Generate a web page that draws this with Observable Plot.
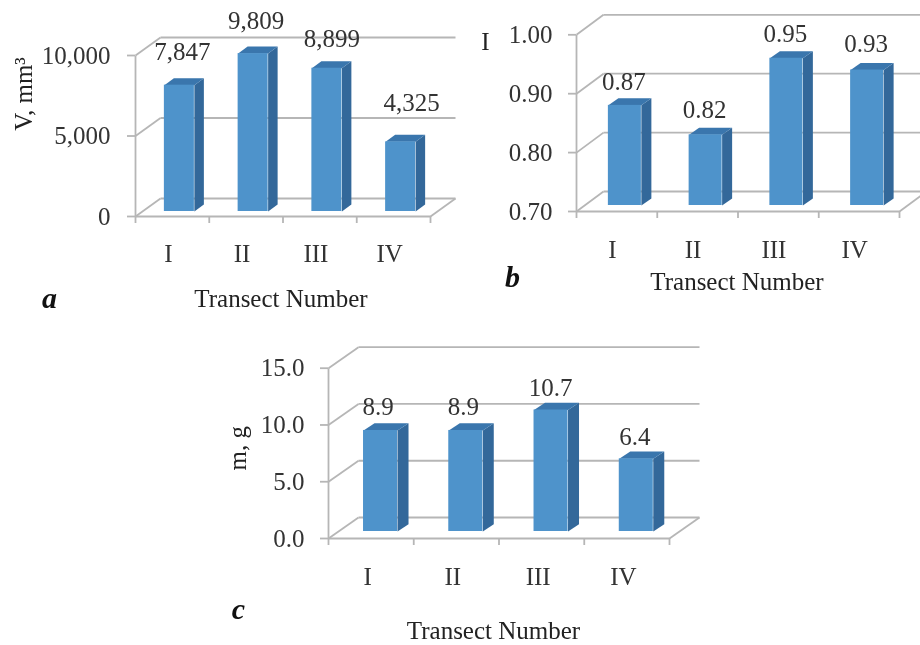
<!DOCTYPE html>
<html>
<head>
<meta charset="utf-8">
<script src="https://cdn.jsdelivr.net/npm/d3@7"></script>
<script src="https://cdn.jsdelivr.net/npm/@observablehq/plot@0.6"></script>
<style>
html,body{margin:0;padding:0;background:#fff}
#wrap{position:relative;width:920px;height:645px;overflow:hidden;filter:blur(0.5px)}
#wrap svg{position:absolute;left:0;top:0}
</style>
</head>
<body>
<div id="wrap"></div>
<script>
const categories = ["I", "II", "III", "IV"];
const volumeValues = [7847, 9809, 8899, 4325];
const volumeTicks = [0, 5000, 10000];
const indexValues = [0.87, 0.82, 0.95, 0.93];
const indexTicks = [0.7, 0.8, 0.9, 1.0];
const massValues = [8.9, 8.9, 10.7, 6.4];
const massTicks = [0, 5, 10, 15];
const xLabel = "Transect Number";

const FRONT = "#4e93cb", SIDE = "#33689a", TOP = "#3a76ad", GRID = "#b6b6b6", INK = "#333333";
const FONT = "'Liberation Serif','Times New Roman',serif";

const panels = [
  {values: volumeValues, ticks: volumeTicks, fmt: d3.format(","), domain: [0, 10000],
   frame: {l: 135, r: 430, t: 55, b: 216}, back: [25, 18], shift: [7, 5], barW: 30, depth: [9.5, 7],
   tickRight: 17, catDx: -4, catDy: 37, labelDx: [10, 10, 12, 18], labelDy: [-38, -38, -34, -44],
   letter: "a", letterAt: [-86, 82], yLabel: "V, mm³", yLabelDx: -112, xLabelAt: [-2, 82]},
  {values: indexValues, ticks: indexTicks, fmt: d3.format(".2f"), domain: [0.7, 1.0],
   frame: {l: 576, r: 899, t: 34.3, b: 211}, back: [27, 20], shift: [8, 6], barW: 33, depth: [10, 7],
   tickRight: 16, catDx: -4.5, catDy: 38, labelDx: [7, 7, 7, 7], labelDy: [-29, -31, -30, -32],
   letter: "b", letterAt: [-64, 66], yLabel: "I", yLabelDx: -91, yLabelFlat: true, xLabelAt: [-1, 70]},
  {values: massValues, ticks: massTicks, fmt: d3.format(".1f"), domain: [0, 15],
   frame: {l: 328, r: 669, t: 367.7, b: 538}, back: [30, 21], shift: [9.4, 7], barW: 34, depth: [11, 7.3],
   tickRight: 16, catDx: -3.5, catDy: 38, labelDx: [7, 7, 9, 8], labelDy: [-30, -30, -29.5, -29],
   letter: "c", letterAt: [-90, 71], yLabel: "m, g", yLabelDx: -91, xLabelAt: [-5.5, 92]}
];

function drawPanel(p) {
  const {l, r, t, b} = p.frame;
  const lo = p.domain[0], hi = p.domain[1];
  const ux = (r - l) / 4, uy = (b - t) / (hi - lo);
  const backX = p.back[0] / ux, backY = p.back[1] / uy;
  const depthX = p.depth[0] / ux, depthY = p.depth[1] / uy;
  const halfBar = p.barW / ux / 2;
  const bars = p.values.map((v, i) => ({i, v, x1: i + 0.5 - halfBar, x2: i + 0.5 + halfBar}));
  const side = bars.flatMap(d => [
    {k: d.i, x: d.x2, y: lo}, {k: d.i, x: d.x2 + depthX, y: lo + depthY},
    {k: d.i, x: d.x2 + depthX, y: d.v + depthY}, {k: d.i, x: d.x2, y: d.v}]);
  const top = bars.flatMap(d => [
    {k: d.i, x: d.x1, y: d.v}, {k: d.i, x: d.x1 + depthX, y: d.v + depthY},
    {k: d.i, x: d.x2 + depthX, y: d.v + depthY}, {k: d.i, x: d.x2, y: d.v}]);
  const barOpts = {dx: p.shift[0], dy: -p.shift[1]};
  const gridStyle = {stroke: GRID, strokeWidth: 1.8};
  const shared = {fontSize: 25, fill: INK};

  const svg = Plot.plot({
    width: 920, height: 645,
    marginLeft: l, marginRight: 920 - r, marginTop: t, marginBottom: 645 - b,
    style: {background: "transparent", fontFamily: FONT},
    x: {type: "linear", domain: [0, 4]},
    y: {type: "linear", domain: p.domain},
    marks: [
      Plot.link(p.ticks, {x1: backX, x2: 4 + backX, y1: d => d + backY, y2: d => d + backY, ...gridStyle}),
      Plot.link(p.ticks, {x1: 0, x2: backX, y1: d => d, y2: d => d + backY, ...gridStyle}),
      Plot.link([lo], {x1: 4, x2: 4 + backX, y1: d => d, y2: d => d + backY, ...gridStyle}),
      Plot.link([lo], {x1: 0, x2: 4, y1: d => d, y2: d => d, ...gridStyle}),
      Plot.link([lo], {x1: 0, x2: 0, y1: lo, y2: hi, ...gridStyle}),
      Plot.axisX({ticks: [0, 1, 2, 3, 4], tickSize: 7, tickFormat: () => "", stroke: GRID, strokeWidth: 1.8, anchor: "bottom", label: null}),
      Plot.axisX({ticks: categories.map((c, i) => i + 0.5), tickFormat: (d, i) => categories[i], tickSize: 0,
        tickPadding: p.catDy - 9, dx: p.catDx, anchor: "bottom", label: null, ...shared}),
      Plot.axisY({ticks: p.ticks, tickSize: 8, tickPadding: p.tickRight, tickFormat: p.fmt, stroke: GRID, strokeWidth: 1.8,
        anchor: "left", label: null, ...shared}),
      Plot.line(side, {x: "x", y: "y", z: "k", fill: SIDE, stroke: null, ...barOpts}),
      Plot.line(top, {x: "x", y: "y", z: "k", fill: TOP, stroke: null, ...barOpts}),
      Plot.rect(bars, {x1: "x1", x2: "x2", y1: lo, y2: "v", fill: FRONT, ...barOpts}),
      ...bars.map(d => Plot.text([d], {x: d.i + 0.5, y: "v", text: c => p.fmt(c.v), dx: p.labelDx[d.i], dy: p.labelDy[d.i], ...shared})),
      Plot.text([xLabel], {x: 2, y: lo, dx: p.xLabelAt[0], dy: p.xLabelAt[1], ...shared, fill: "#222"}),
      Plot.text([p.yLabel], {x: 0, y: (lo + hi) / 2, dx: p.yLabelDx, dy: p.yLabelFlat ? -81 : -(p === panels[0] ? 42 : 5),
        rotate: p.yLabelFlat ? 0 : -90, ...shared, fill: "#222"}),
      Plot.text([p.letter], {x: 0, y: lo, dx: p.letterAt[0], dy: p.letterAt[1], fontSize: 30, fontWeight: "bold", fontStyle: "italic", fill: "#111"})
    ]
  });
  document.getElementById("wrap").appendChild(svg);
}
panels.forEach(drawPanel);
</script>
</body>
</html>
